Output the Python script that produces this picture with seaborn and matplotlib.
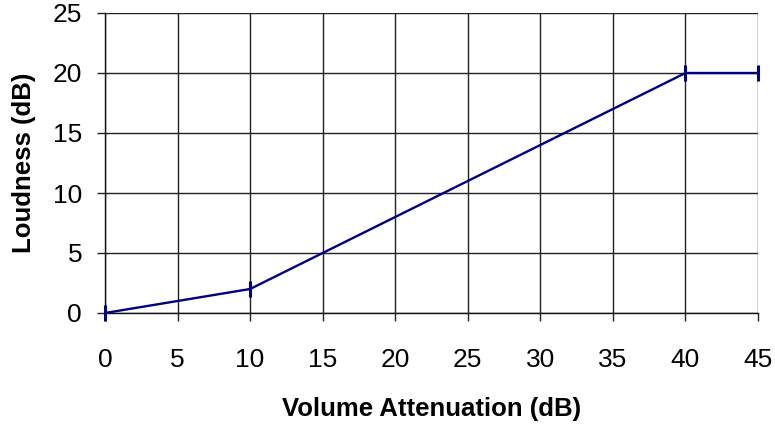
import matplotlib
matplotlib.use("Agg")
import matplotlib.pyplot as plt
import seaborn as sns
import pandas as pd

attenuation = [0, 10, 40, 45]
loudness = [0, 2, 20, 20]
x_ticks = [0, 5, 10, 15, 20, 25, 30, 35, 40, 45]
y_ticks = [0, 5, 10, 15, 20, 25]

sns.set_theme(style="white")
plt.rcParams['font.family'] = ['Liberation Sans', 'DejaVu Sans']

df = pd.DataFrame({"Volume Attenuation (dB)": attenuation, "Loudness (dB)": loudness})

fig = plt.figure(figsize=(7.75, 4.29), dpi=100)
ax = fig.add_axes([105/775, 1 - 313/429, (758 - 105)/775, (313 - 13)/429])
sns.lineplot(data=df, x="Volume Attenuation (dB)", y="Loudness (dB)", ax=ax,
             color="#000080", linewidth=1.7, marker="|", markersize=11,
             markeredgewidth=2.2, markeredgecolor="#000080", clip_on=False, zorder=5)

ax.set_xlim(0, 45)
ax.set_ylim(0, 25)
ax.set_xticks(x_ticks)
ax.set_yticks(y_ticks)
ax.grid(True, color="#222222", linewidth=1)
for s in ["top", "right"]:
    ax.spines[s].set_visible(False)
for s in ["left", "bottom"]:
    ax.spines[s].set_color("#111111")
    ax.spines[s].set_linewidth(1)
ax.tick_params(axis="both", direction="out", length=6, width=1, color="#222222",
               labelsize=19, labelcolor="black", bottom=True, left=True)
ax.tick_params(axis="x", pad=19)
ax.tick_params(axis="y", pad=10.5)
ax.set_xlabel("Volume Attenuation (dB)", fontsize=18.5, fontweight="bold",
              labelpad=18, color="black")
ax.set_ylabel("Loudness (dB)", fontsize=18.5, fontweight="bold",
              labelpad=12, color="black")

fig.savefig("out.png", dpi=100)
